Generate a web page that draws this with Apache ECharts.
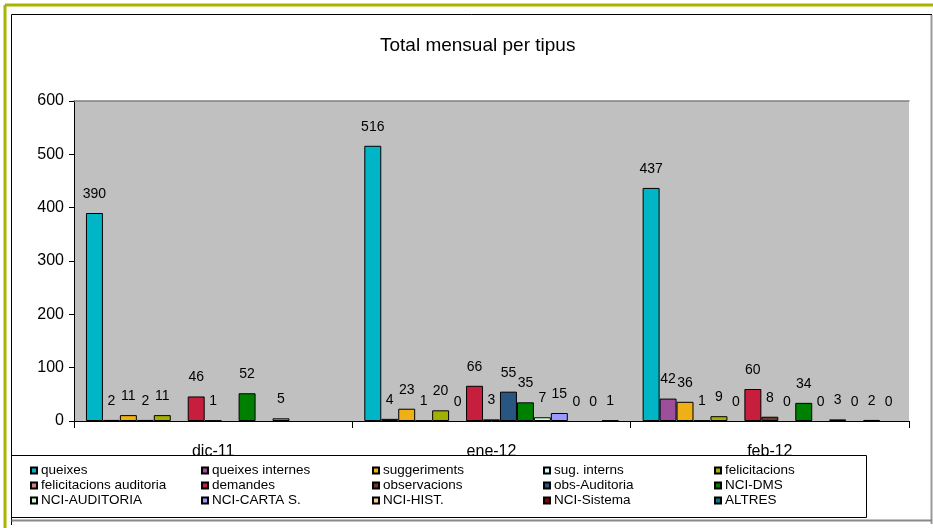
<!DOCTYPE html>
<html>
<head>
<meta charset="utf-8">
<title>Total mensual per tipus</title>
<script src="https://cdn.jsdelivr.net/npm/echarts@6/dist/echarts.min.js"></script>
<style>
  html, body { margin: 0; padding: 0; background: #fff; }
  #chart { width: 933px; height: 528px; }
</style>
</head>
<body>
<div id="chart"></div>
<script>
// Months on the category axis
const categories = ['dic-11', 'ene-12', 'feb-12'];

// Monthly totals per type (null = no record that month)
const queixes                = [390, 516, 437];
const queixesInternes        = [2, 4, 42];
const suggeriments           = [11, 23, 36];
const sugInterns             = [2, 1, 1];
const felicitacions          = [11, 20, 9];
const felicitacionsAuditoria = [null, 0, 0];
const demandes               = [46, 66, 60];
const observacions           = [1, 3, 8];
const obsAuditoria           = [null, 55, 0];
const nciDms                 = [52, 35, 34];
const nciAuditoria           = [null, 7, 0];
const nciCartaS              = [5, 15, 3];
const nciHist                = [null, 0, 0];
const nciSistema             = [null, 0, 2];
const altres                 = [null, 1, 0];

// Value axis ticks
const yTicks = [0, 100, 200, 300, 400, 500, 600];

const seriesDefs = [
  { name: 'queixes',                 data: queixes,                color: '#00B5C6' },
  { name: 'queixes internes',        data: queixesInternes,        color: '#9E4F9C' },
  { name: 'suggeriments',            data: suggeriments,           color: '#EEB014' },
  { name: 'sug. interns',            data: sugInterns,             color: '#CCFFFF' },
  { name: 'felicitacions',           data: felicitacions,          color: '#A3B000' },
  { name: 'felicitacions auditoria', data: felicitacionsAuditoria, color: '#D08080' },
  { name: 'demandes',                data: demandes,               color: '#C81E3E' },
  { name: 'observacions',            data: observacions,           color: '#6B3A26' },
  { name: 'obs-Auditoria',           data: obsAuditoria,           color: '#285680' },
  { name: 'NCI-DMS',                 data: nciDms,                 color: '#008000' },
  { name: 'NCI-AUDITORIA',           data: nciAuditoria,           color: '#CCFFCC' },
  { name: 'NCI-CARTA S.',            data: nciCartaS,              color: '#9999FF' },
  { name: 'NCI-HIST.',               data: nciHist,                color: '#FFCC99' },
  { name: 'NCI-Sistema',             data: nciSistema,             color: '#8B0000' },
  { name: 'ALTRES',                  data: altres,                 color: '#007B80' }
];

const FONT = '"Liberation Sans", Arial, sans-serif';

const series = seriesDefs.map(s => ({
  name: s.name,
  type: 'bar',
  barGap: 0,
  barCategoryGap: '8.6%',
  xAxisIndex: 0,
  yAxisIndex: 0,
  itemStyle: { color: s.color, borderColor: '#000', borderWidth: 1 },
  label: {
    show: true,
    position: 'top',
    distance: 12,
    color: '#000',
    fontSize: 14,
    fontFamily: FONT
  },
  data: s.data.map(v => v === 0
    ? { value: 0, itemStyle: { borderWidth: 0 } }
    : (v === null ? '-' : v))
}));

// Legend laid out as 5 columns of 3 rows
const colLeft = [30, 201, 372, 543, 714];
const legends = colLeft.map((left, c) => ({
  orient: 'vertical',
  left: left,
  top: 463,
  padding: 0,
  itemGap: 0,
  itemWidth: 6,
  itemHeight: 6,
  icon: 'rect',
  selectedMode: false,
  textStyle: { fontSize: 13.5, fontFamily: FONT, color: '#000', lineHeight: 15, padding: [0, 0, 0, -1] },
  data: [seriesDefs[c].name, seriesDefs[c + 5].name, seriesDefs[c + 10].name]
}));

const chart = echarts.init(document.getElementById('chart'), null, { renderer: 'canvas' });
chart.setOption({
  backgroundColor: '#fff',
  animation: false,
  title: {
    text: 'Total mensual per tipus',
    left: 380,
    top: 36,
    padding: 0,
    textStyle: { fontSize: 19, fontWeight: 'normal', fontFamily: FONT, color: '#000' }
  },
  legend: legends,
  grid: {
    left: 74, right: 24, top: 101, bottom: 107,
    show: true,
    backgroundColor: '#C0C0C0',
    borderWidth: 0
  },
  xAxis: [{
    type: 'category',
    data: categories,
    axisLine: { lineStyle: { color: '#000', width: 1 } },
    axisTick: { show: true, length: 7, lineStyle: { color: '#000' } },
    axisLabel: { fontSize: 16, fontFamily: FONT, color: '#000', margin: 23 }
  }, {
    type: 'category',
    data: categories,
    position: 'top',
    axisLine: { lineStyle: { color: '#808080', width: 1.5 } },
    axisTick: { show: false },
    axisLabel: { show: false }
  }],
  yAxis: {
    type: 'value',
    min: yTicks[0],
    max: yTicks[yTicks.length - 1],
    interval: yTicks[1] - yTicks[0],
    splitLine: { show: false },
    axisLine: { show: true, lineStyle: { color: '#000', width: 1 } },
    axisTick: { show: true, length: 5, lineStyle: { color: '#000' } },
    axisLabel: { fontSize: 16, fontFamily: FONT, color: '#000', margin: 10 }
  },
  graphic: [
    // outer olive frame
    { type: 'line', z: 10, shape: { x1: 5, y1: 5, x2: 933, y2: 5 }, style: { stroke: '#A8B400', lineWidth: 3 } },
    { type: 'line', z: 10, shape: { x1: 5, y1: 5, x2: 5, y2: 528 }, style: { stroke: '#A8B400', lineWidth: 3 } },
    // chart area frame
    { type: 'line', z: 10, shape: { x1: 11.5, y1: 14.5, x2: 932, y2: 14.5 }, style: { stroke: '#000', lineWidth: 1 } },
    { type: 'line', z: 10, shape: { x1: 11.5, y1: 14.5, x2: 11.5, y2: 525 }, style: { stroke: '#000', lineWidth: 1 } },
    { type: 'line', z: 10, shape: { x1: 931.5, y1: 15, x2: 931.5, y2: 524 }, style: { stroke: '#999', lineWidth: 2 } },
    { type: 'line', z: 10, shape: { x1: 11.5, y1: 520.5, x2: 932, y2: 520.5 }, style: { stroke: '#888', lineWidth: 2 } },
    // legend box (covers the lower part of the month labels)
    { type: 'rect', z: 3, shape: { x: 11.5, y: 455.5, width: 855, height: 62 }, style: { fill: '#fff', stroke: '#000', lineWidth: 1 } }
  ],
  series: series
});
</script>
</body>
</html>
